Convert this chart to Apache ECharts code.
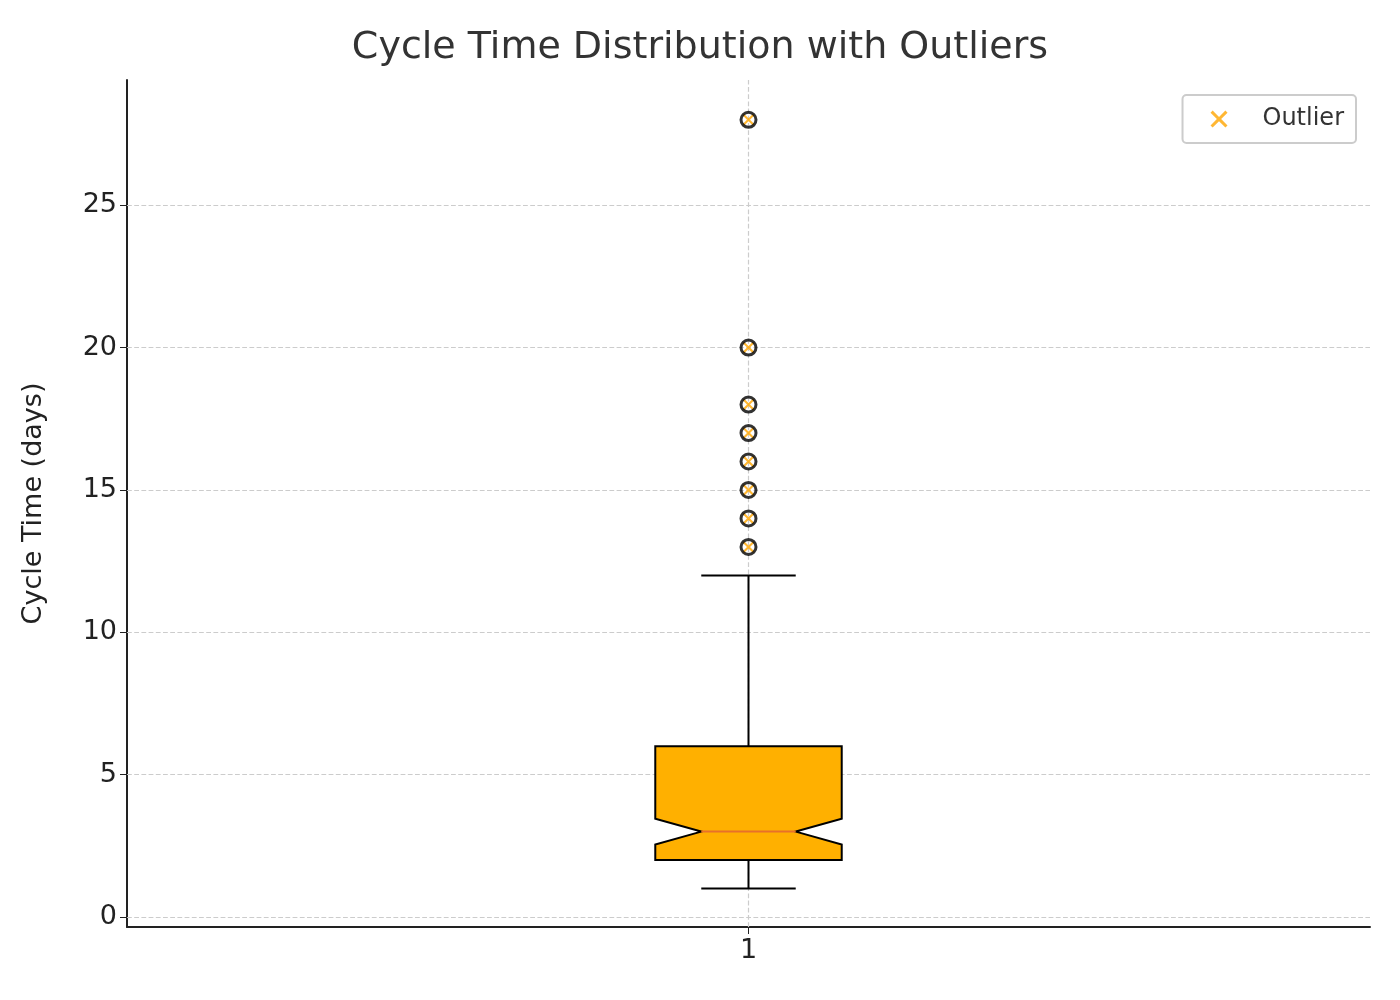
<!DOCTYPE html>
<html><head><meta charset="utf-8">
<script src="https://cdn.jsdelivr.net/npm/echarts@6/dist/echarts.min.js"></script>
<style>html,body{margin:0;background:#fff}#c{width:1400px;height:1000px}</style></head>
<body><div id="c"></div>
<script>
const categories = [1];
// [x, whiskerLow, q1, notchLow, median, notchHigh, q3, whiskerHigh]
const boxStats = [[1, 1, 2, 2.55, 3, 3.45, 6, 12]];
const outliers = [13, 14, 15, 16, 17, 18, 20, 28];
const yTicks = [0, 5, 10, 15, 20, 25];

const xIcon = 'path://M2,0L8,6L14,0L16,2L10,8L16,14L14,16L8,10L2,16L0,14L6,8L0,2Z';
const chart = echarts.init(document.getElementById('c'));
const grid = {left:127, right:30, top:80, bottom:73};
chart.setOption({
  animation:false,
  title:{text:'Cycle Time Distribution with Outliers', left:'center', top:24,
    textStyle:{fontFamily:'DejaVu Sans', fontSize:38, fontWeight:'normal', color:'#333'}},
  legend:{right:44, top:95, orient:'vertical', padding:[12,12,12,28], itemGap:0,
    borderColor:'#ccc', borderWidth:2, borderRadius:4, itemWidth:17, itemHeight:17,
    textStyle:{fontFamily:'DejaVu Sans', fontSize:24, color:'#333', padding:[0,0,0,30]},
    data:[{name:'Outlier', icon:xIcon, itemStyle:{color:'orange'}}]},
  grid:grid,
  xAxis:{type:'value', min:0.5, max:1.5,
    axisLine:{show:true, onZero:false, lineStyle:{color:'#222', width:2}},
    axisTick:{show:true, customValues:categories, length:7, lineStyle:{color:'#222'}},
    axisLabel:{customValues:categories, fontFamily:'DejaVu Sans', fontSize:27, color:'#222', margin:10},
    splitLine:{show:false}},
  yAxis:{type:'value', min:-0.35, max:29.4,
    name:'Cycle Time (days)', nameLocation:'middle', nameGap:80,
    nameTextStyle:{fontFamily:'DejaVu Sans', fontSize:27, color:'#222'},
    axisLine:{show:true, lineStyle:{color:'#222', width:2}},
    axisTick:{show:true, customValues:yTicks, length:7, lineStyle:{color:'#222'}},
    axisLabel:{customValues:yTicks, fontFamily:'DejaVu Sans', fontSize:27, color:'#222', margin:10},
    splitLine:{show:false}},
  series:[
    {type:'line', data:[], silent:true,
     markLine:{silent:true, symbol:'none', label:{show:false},
       lineStyle:{color:'#ccc', type:'dashed', width:1.2},
       data:yTicks.map(v=>({yAxis:v})).concat(categories.map(v=>({xAxis:v})))}},
    {type:'custom', data:boxStats, z:5,
     renderItem:function(params, api){
       const x=api.value(0), lo=api.value(1), q1=api.value(2), nl=api.value(3), md=api.value(4), nh=api.value(5), q3=api.value(6), hi=api.value(7);
       const w=0.075, nw=0.038, cw=0.038;
       const P=(a,b)=>api.coord([a,b]);
       const poly=[P(x-w,q1),P(x+w,q1),P(x+w,nl),P(x+nw,md),P(x+w,nh),P(x+w,q3),P(x-w,q3),P(x-w,nh),P(x-nw,md),P(x-w,nl)];
       const ls={stroke:'#000', lineWidth:2};
       const line=(a,b)=>({type:'line', shape:{x1:a[0],y1:a[1],x2:b[0],y2:b[1]}, style:ls});
       return {type:'group', children:[
         line(P(x,lo),P(x,q1)), line(P(x,q3),P(x,hi)),
         line(P(x-cw,lo),P(x+cw,lo)), line(P(x-cw,hi),P(x+cw,hi)),
         {type:'polygon', shape:{points:poly}, style:{fill:'#ffb000', stroke:'#000', lineWidth:2}},
         {type:'line', shape:{x1:P(x-nw,md)[0],y1:P(x-nw,md)[1],x2:P(x+nw,md)[0],y2:P(x+nw,md)[1]}, style:{stroke:'#e8702a', lineWidth:2}}
       ]};
     }},
    {type:'scatter', name:'Outlier', data:outliers.map(v=>[1,v]), symbol:xIcon, symbolSize:12, z:6,
     itemStyle:{color:'orange'}},
    {type:'scatter', name:'circles', data:outliers.map(v=>[1,v]), symbol:'circle', symbolSize:15, z:7,
     itemStyle:{color:'rgba(0,0,0,0)', borderColor:'#000', borderWidth:3}}
  ]
});
</script></body></html>
